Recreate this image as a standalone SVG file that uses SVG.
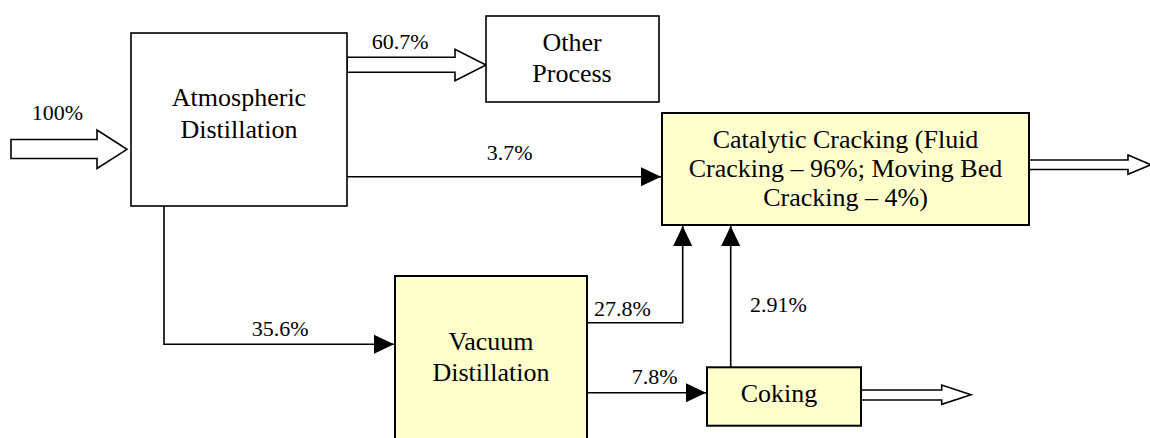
<svg xmlns="http://www.w3.org/2000/svg" width="1150" height="438" viewBox="0 0 1150 438">
<style>
.box{fill:#ffffff;stroke:#000;stroke-width:1.6}
.ybox{fill:#ffffcc;stroke:#000;stroke-width:2}
.t{font-family:"Liberation Serif","Times New Roman",serif;font-size:26px;fill:#000;text-anchor:middle}
.l{font-family:"Liberation Serif","Times New Roman",serif;font-size:22px;fill:#000}
.ln{fill:none;stroke:#000;stroke-width:1.6}
.blk{fill:#fff;stroke:#000;stroke-width:1.6;stroke-linejoin:miter}
</style>
<defs>
<marker id="ah" markerUnits="userSpaceOnUse" markerWidth="20" markerHeight="20" refX="20" refY="10" orient="auto">
<path d="M0,0.5 L20,10 L0,19.5 z" fill="#000"/>
</marker>
</defs>
<g id="connectors">
<polygon class="blk" points="11,139.5 97,139.5 97,130 127,149.3 97,168.5 97,158.5 11,158.5"/>
<polygon class="blk" points="347,57.3 455,57.3 455,49.3 486,65 455,80.7 455,72.3 347,72.3"/>
<polygon class="blk" points="1029,160 1128,160 1128,155 1151,164.7 1128,174.3 1128,169.5 1029,169.5"/>
<polygon class="blk" points="861,390 941.7,390 941.7,385 971,394.7 941.7,404.3 941.7,400 861,400"/>
<path class="ln" d="M347,176.7 H661" marker-end="url(#ah)"/>
<path class="ln" d="M164,206 V344.3 H394" marker-end="url(#ah)"/>
<path class="ln" d="M587,322.7 H682.7 V226" marker-end="url(#ah)"/>
<path class="ln" d="M730.7,367 V226" marker-end="url(#ah)"/>
<path class="ln" d="M587,392.7 H706" marker-end="url(#ah)"/>
<text class="l" x="31.7" y="120">100%</text>
<text class="l" x="371.7" y="49">60.7%</text>
<text class="l" x="486.7" y="160">3.7%</text>
<text class="l" x="251.7" y="336">35.6%</text>
<text class="l" x="594" y="316">27.8%</text>
<text class="l" x="750" y="311.7">2.91%</text>
<text class="l" x="631.7" y="384">7.8%</text>
</g>
<g id="atmospheric">
<rect class="box" x="131" y="33" width="216" height="173"/>
<text class="t" x="239" y="106">Atmospheric</text>
<text class="t" x="239" y="137.7">Distillation</text>
</g>
<g id="other">
<rect class="box" x="486" y="16" width="173" height="86"/>
<text class="t" x="572" y="50.7">Other</text>
<text class="t" x="572" y="81.7">Process</text>
</g>
<g id="catalytic">
<rect class="ybox" x="662" y="113" width="367" height="112"/>
<text class="t" x="845.5" y="148.3">Catalytic Cracking (Fluid</text>
<text class="t" x="845.5" y="176.7">Cracking – 96%; Moving Bed</text>
<text class="t" x="845.5" y="206">Cracking – 4%)</text>
</g>
<g id="vacuum">
<rect class="ybox" x="395" y="276" width="192" height="170"/>
<text class="t" x="491" y="350">Vacuum</text>
<text class="t" x="491" y="380.7">Distillation</text>
</g>
<g id="coking">
<rect class="ybox" x="707" y="367.3" width="154" height="58.4"/>
<text class="t" x="779" y="402.3">Coking</text>
</g>
</svg>
